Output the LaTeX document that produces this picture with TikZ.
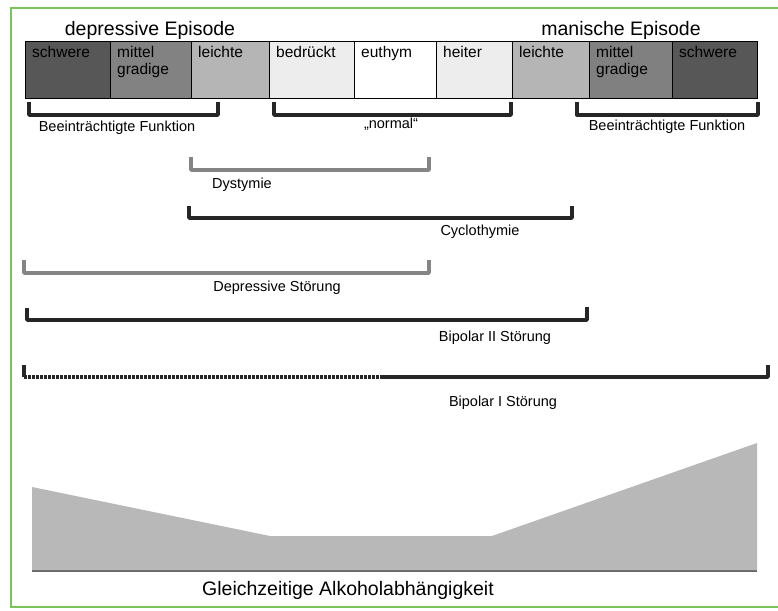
\documentclass[tikz,border=0pt]{standalone}
\usepackage{fontspec}
\setmainfont{Liberation Sans}
\definecolor{framegreen}{HTML}{7DC35B}
\tikzset{
  darkbr/.style={line width=3.4pt, color=black!85, line join=round},
  lightbr/.style={line width=3.4pt, color=black!48, line join=round},
  boxtext/.style={anchor=north west, align=left, inner sep=0pt, font=\fontsize{15.5}{17}\selectfont},
  brtext/.style={inner sep=0pt, font=\fontsize{14.5}{16}\selectfont},
  headtext/.style={inner sep=0pt, font=\fontsize{19.5}{22}\selectfont},
}
\begin{document}
\begin{tikzpicture}[x=1pt,y=-1pt]
    \useasboundingbox (0,0) rectangle (778,610);
    \draw[framegreen, line width=2.5pt] (790,8) -- (11,8) -- (11,607) -- (790,607);

    % scale of moods
    \foreach \a/\b/\c/\t [count=\i] in {25/110/black!66/schwere, 110/191/black!49/{mittel\\gradige},
        191/269/black!29/leichte, 269/354/black!7/bedrückt, 354/436/white/euthym, 436/512/black!7/heiter,
        512/589/black!29/leichte, 589/672/black!50/{mittel\\gradige}, 672/757/black!66/schwere}
      {\draw[black, line width=1pt, fill=\c] (\a,42) rectangle (\b,98);
       \node[boxtext] (box\i) at (\a+7,46) {\t};}

    \node[headtext] (dep) at (150,30) {depressive Episode};
    \node[headtext] (man) at (621,30) {manische Episode};

    % brackets under the scale
    \draw[darkbr] (29,102) -- (29,115) -- (218,115) -- (218,102);
    \draw[darkbr] (274,102) -- (274,115) -- (511,115) -- (511,102);
    \draw[darkbr] (577,102) -- (577,115) -- (758,115) -- (758,102);
    \node[brtext] (funcl) at (117,128) {Beeinträchtigte Funktion};
    \node[brtext] (norm) at (391,124) {„normal“};
    \node[brtext] (funcr) at (667,127) {Beeinträchtigte Funktion};

    \draw[lightbr] (191,157) -- (191,170) -- (429,170) -- (429,157);
    \node[brtext] (dys) at (242,185) {Dystymie};

    \draw[darkbr] (189,206) -- (189,218) -- (572,218) -- (572,206);
    \node[brtext] (cyc) at (480,232) {Cyclothymie};

    \draw[lightbr] (24,260) -- (24,273) -- (429,273) -- (429,260);
    \node[brtext] (deps) at (277,288) {Depressive Störung};

    \draw[darkbr] (27,308) -- (27,320) -- (587,320) -- (587,307);
    \node[brtext] (bip2) at (495,338) {Bipolar II Störung};

    \draw[darkbr] (24,365) -- (24,377);
    \draw[black!85, line width=3.4pt, dash pattern=on 2.6pt off 1.4pt] (24,377) -- (383,377);
    \draw[darkbr] (383,377) -- (768,377) -- (768,365);
    \node[brtext] (bip1) at (503,403) {Bipolar I Störung};

    % alcohol dependence
    \draw[black!60, line width=2.5pt] (32,571) -- (757,571);
    \fill[black!28] (32,487) -- (270,536) -- (492,536) -- (757,443) -- (757,570) -- (32,570) -- cycle;
    \node[headtext] (alc) at (348,590) {Gleichzeitige Alkoholabhängigkeit};
\end{tikzpicture}
\end{document}
